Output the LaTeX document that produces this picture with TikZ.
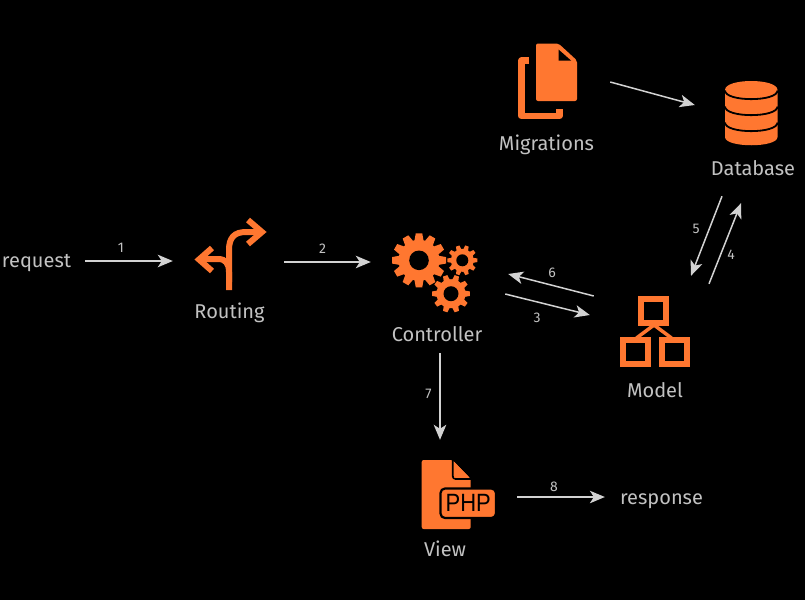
\documentclass[tikz,border=0pt]{standalone}
\usepackage{fontspec}
\usepackage{graphicx}
\setmainfont{Fira Sans}
\usetikzlibrary{arrows.meta}
\definecolor{icon}{HTML}{FF7730}
\definecolor{ink}{HTML}{C2C2C2}
\definecolor{wire}{HTML}{D2D2D2}
\newcommand{\gearicon}[6]{% x y outer body hole teeth
  \begin{scope}[shift={(#1,#2)}]
    \fill[icon] (0,0) circle[radius=#4];
    \pgfmathsetmacro{\stepang}{360/#6}
    \foreach \t in {1,...,#6}{
      \fill[icon,rotate=\t*\stepang]
        (#4-1,-#3*0.17) -- (#3,-#3*0.12) -- (#3,#3*0.12) -- (#4-1,#3*0.17) -- cycle;
    }
    \fill[black] (0,0) circle[radius=#5];
  \end{scope}}
\tikzset{
  x=1pt,y=-1pt,
  label/.style={text=ink,font=\fontsize{20}{24}\selectfont,anchor=base,inner sep=0pt},
  num/.style={text=ink,font=\fontsize{14}{17}\selectfont,anchor=base,inner sep=0pt},
  flow/.style={draw=wire,line width=1.5pt,-{Stealth[length=15pt,width=12.5pt,inset=4pt]}},
  iconbox/.style={inner sep=0pt,minimum width=#1,anchor=center},
  boxh/.style={minimum height=#1},
  stroke/.style={draw=icon,line cap=butt,line join=miter}
}
\begin{document}
\begin{tikzpicture}
\useasboundingbox (0,0) rectangle (805,600);
\fill[black] (0,0) rectangle (805,600);

% invisible icon boxes
\node[iconbox=74pt,boxh=72pt] (routing) at (230,254) {};
\node[iconbox=85pt,boxh=78pt] (controller) at (434.5,273) {};
\node[iconbox=59pt,boxh=77pt] (migrations) at (547.5,81.5) {};
\node[iconbox=52pt,boxh=65pt] (database) at (751,113.5) {};
\node[iconbox=70pt,boxh=71pt] (model) at (655,331.5) {};
\node[iconbox=76pt,boxh=69pt] (view) at (459,494.5) {};

% labels
\node[label] (requestlabel) at (36.5,267) {request};
\node[label] (routinglabel) at (229.5,318) {Routing};
\node[label] (controllerlabel) at (437,341) {Controller};
\node[label] (migrationslabel) at (546.5,150) {Migrations};
\node[label] (databaselabel) at (753,175) {Database};
\node[label] (modellabel) at (655,397) {Model};
\node[label] (viewlabel) at (445,556) {View};
\node[label] (responselabel) at (661.5,504) {response};

\node[num] (n1) at (121,252) {1};
\node[num] (n2) at (322.5,253) {2};
\node[num] (n3) at (537,322) {3};
\node[num] (n4) at (731,259) {4};
\node[num] (n5) at (696,233) {5};
\node[num] (n6) at (552,277) {6};
\node[num] (n7) at (428.5,398) {7};
\node[num] (n8) at (554,491) {8};

% connectors
\draw[flow] ([shift={(14,-6)}]requestlabel.base east) -- ([shift={(-20,7)}]routing.west);
\draw[flow] ([shift={(17,8)}]routing.east) -- ([shift={(-21,-11)}]controller.west);
\draw[flow] ([shift={(28,21)}]controller.east) -- ([shift={(-30,-16.5)}]model.west);
\draw[flow] ([shift={(-26,-35.5)}]model.west) -- ([shift={(31,1)}]controller.east);
\draw[flow] ([shift={(54,-12)}]model.north) -- ([shift={(-10,57)}]database.south);
\draw[flow] ([shift={(-29,50)}]database.south) -- ([shift={(36,-20)}]model.north);
\draw[flow] ([shift={(33,0.5)}]migrations.east) -- ([shift={(-30,-8.5)}]database.west);
\draw[flow] ([shift={(5.5,41)}]controller.south) -- ([shift={(-19,-20)}]view.north);
\draw[flow] ([shift={(20,2.5)}]view.east) -- ([shift={(-15,-7)}]responselabel.base west);

% routing icon
\draw[stroke,line width=6pt] (229,290) -- (229,250) .. controls (229,238) and (234,232) .. (246,232) -- (258,232);
\draw[stroke,line width=6pt] (248,220) -- (262,232) -- (248,244);
\draw[stroke,line width=6pt] (229,282) -- (229,272) .. controls (229,264) and (226,259) .. (218,259) -- (203,259);
\draw[stroke,line width=6pt] (212,248) -- (199,259.5) -- (212,271);

% gears
\gearicon{419}{260.3}{27}{20.5}{9.8}{12}
\gearicon{462.3}{260.3}{15}{11.5}{6}{10}
\gearicon{451}{293.7}{18.8}{14.5}{7.5}{10}

% migrations icon
\draw[stroke,line width=6.5pt,line join=round] (529,60.5) -- (521.5,60.5) -- (521.5,116) -- (559.5,116) -- (559.5,109);
\fill[icon,rounded corners=2pt] (536,43.5) -- (558.5,43.5) -- (577,60.5) -- (577,101) -- (536,101) -- cycle;
\fill[black] (558.5,49.5) -- (558.5,60.5) -- (571,60.5) -- cycle;

% database icon
\fill[icon] (725,90) .. controls (725,78) and (777.5,78) .. (777.5,90)
  -- (777.5,137) .. controls (777.5,148) and (725,148) .. (725,137) -- cycle;
\draw[black,line width=1.8pt] (725,90.5) .. controls (725,102) and (777.5,102) .. (777.5,90.5);
\draw[black,line width=1.8pt] (725,106.5) .. controls (725,118) and (777.5,118) .. (777.5,106.5);
\draw[black,line width=1.8pt] (725,122.5) .. controls (725,134) and (777.5,134) .. (777.5,122.5);

% model icon
\draw[stroke,line width=3.5pt] (654,325) -- (636.5,338);
\draw[stroke,line width=3.5pt] (654,325) -- (671.5,338);
\draw[stroke,line width=6pt] (641.3,298.7) rectangle (666.3,323);
\draw[stroke,line width=6pt] (623,339.7) rectangle (647.7,363.7);
\draw[stroke,line width=6pt] (662.3,339.7) rectangle (687,363.7);

% view icon
\fill[icon,rounded corners=2pt] (421.7,460) -- (452.7,460) -- (470.7,478) -- (470.7,529) -- (421.7,529) -- cycle;
\draw[black,line width=1.8pt,rounded corners=3pt] (452.7,460) -- (452.7,479) -- (471,479);
\draw[black,line width=1.8pt] (452.7,459) -- (471.5,478);
\fill[icon] (454,461.5) -- (469,477.5) -- (454,477.5) -- cycle;
\draw[black,fill=icon,line width=2.2pt,rounded corners=4.5pt] (440.5,488.5) rectangle (496,518);
\node[text=black,font=\fontsize{25}{25}\selectfont\fontspec{Liberation Sans},inner sep=0pt,anchor=base] (phplabel) at (468.3,511.7) {\scalebox{0.88}[1]{PHP}};
\end{tikzpicture}
\end{document}
